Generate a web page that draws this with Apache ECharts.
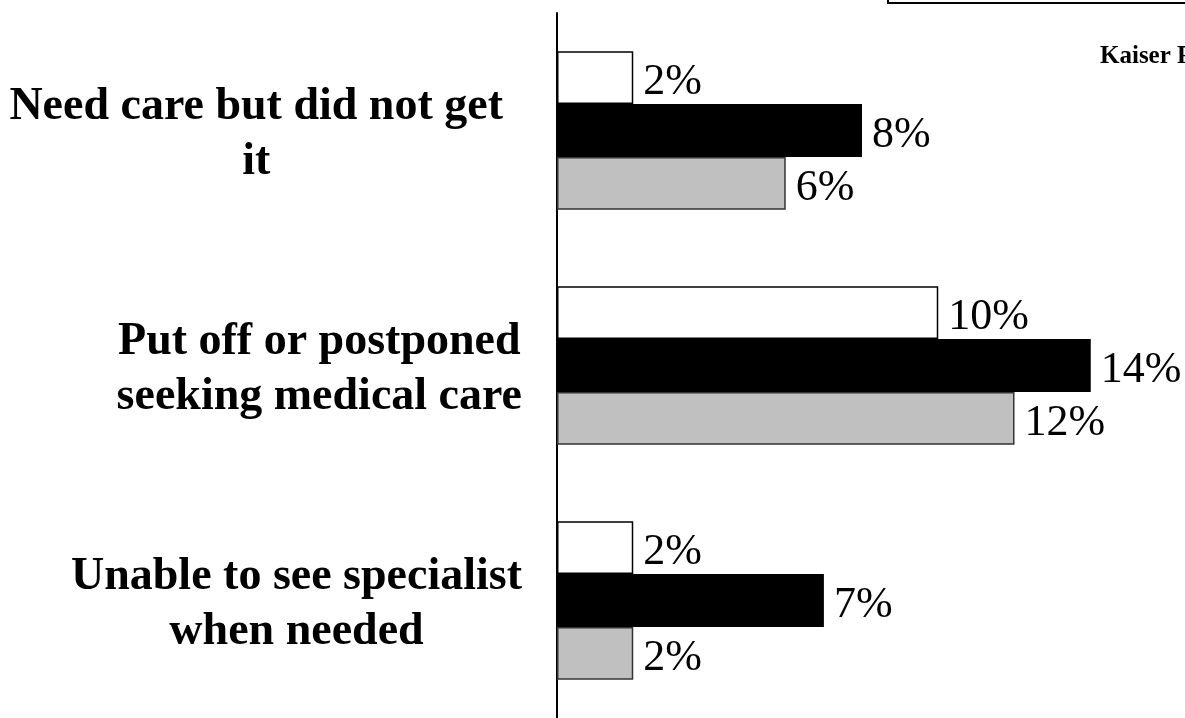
<!DOCTYPE html>
<html>
<head>
<meta charset="utf-8">
<style>
  html, body { margin: 0; padding: 0; background: #fff; }
  #hello { width: 1185px; height: 718px; }
</style>
<script src="https://cdn.jsdelivr.net/npm/echarts@6/dist/echarts.min.js"></script>
</head>
<body>
<div id="hello"></div>
<script>
var categories = [
    'Need care but did not get\nit',
    'Put off or postponed\nseeking medical care',
    'Unable to see specialist\nwhen needed'
];
var whiteValues = [2, 10, 2];
var blackValues = [8, 14, 7];
var grayValues = [6, 12, 2];

var myChart = echarts.init(document.getElementById('hello'));

var labelFont = {
    color: '#000',
    fontFamily: 'Liberation Serif',
    fontSize: 44,
    position: 'right',
    distance: 10,
    offset: [0, 5],
    formatter: '{c}%',
    show: true
};

function barSeries(name, data, fill, border) {
    return {
        name: name,
        type: 'bar',
        data: data,
        barGap: 0,
        barCategoryGap: '32.6%',
        itemStyle: { color: fill, borderColor: border, borderWidth: 1.5 },
        label: labelFont,
        emphasis: { disabled: true }
    };
}

option = {
    animation: false,
    grid: { left: 557, right: 18, top: 13, bottom: -3 },
    xAxis: {
        type: 'value',
        min: 0,
        max: 16,
        show: false
    },
    yAxis: {
        type: 'category',
        data: categories,
        inverse: true,
        axisTick: { show: false },
        axisLine: { lineStyle: { color: '#000', width: 2 } },
        axisLabel: {
            margin: 35,
            align: 'right',
            padding: [8, 0, 0, 0],
            fontFamily: 'Liberation Serif',
            fontWeight: 'bold',
            fontSize: 46,
            lineHeight: 55,
            color: '#000',
            formatter: function (value, idx) {
                var tag = idx === 0 ? 'a' : 'b';
                return value.split('\n').map(function (s) {
                    return '{' + tag + '|' + s + '}';
                }).join('\n');
            },
            rich: {
                a: {
                    align: 'center',
                    fontFamily: 'Liberation Serif',
                    fontWeight: 'bold',
                    fontSize: 46,
                    lineHeight: 55,
                    color: '#000',
                    padding: [0, 19, 0, 0]
                },
                b: {
                    align: 'center',
                    fontFamily: 'Liberation Serif',
                    fontWeight: 'bold',
                    fontSize: 46,
                    lineHeight: 55,
                    color: '#000'
                }
            }
        }
    },
    graphic: [
        {
            type: 'rect',
            shape: { x: 888, y: -60, width: 400, height: 63 },
            style: { fill: 'none', stroke: '#000', lineWidth: 2 }
        },
        {
            type: 'text',
            left: 1100,
            top: 44,
            style: {
                text: 'Kaiser Family Foundation',
                fontFamily: 'Liberation Serif',
                fontWeight: 'bold',
                fontSize: 25,
                fill: '#000'
            }
        }
    ],
    series: [
        barSeries('white', whiteValues, '#ffffff', '#000'),
        barSeries('black', blackValues, '#000000', '#000'),
        barSeries('gray', grayValues, '#c0c0c0', '#333')
    ]
};

myChart.setOption(option);
</script>
</body>
</html>
